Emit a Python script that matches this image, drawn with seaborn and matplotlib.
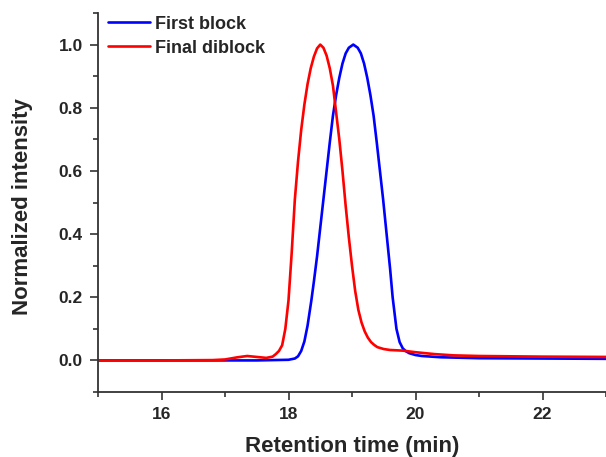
import pandas as pd
import numpy as np
import seaborn as sns
import matplotlib.pyplot as plt
from matplotlib.ticker import MultipleLocator

# GPC traces
first_time = [15.0, 16.0, 17.0, 17.5, 18.0, 18.10, 18.15, 18.20, 18.25, 18.30,
              18.36, 18.40, 18.45, 18.50, 18.55, 18.60, 18.65, 18.70, 18.75, 18.80,
              18.85, 18.90, 18.95, 19.02, 19.09, 19.14, 19.19, 19.24, 19.29, 19.34,
              19.39, 19.44, 19.49, 19.55, 19.60, 19.64, 19.70, 19.75, 19.80, 19.85,
              19.90, 20.0, 20.1, 20.4, 21.0, 22.0, 23.0]
first_int = [0.0, 0.0, 0.0, 0.0, 0.002, 0.006, 0.013, 0.03, 0.06, 0.11,
             0.19, 0.25, 0.33, 0.42, 0.51, 0.60, 0.69, 0.775, 0.84, 0.895,
             0.94, 0.972, 0.99, 1.0, 0.99, 0.972, 0.94, 0.895, 0.84, 0.775,
             0.69, 0.60, 0.51, 0.39, 0.29, 0.20, 0.10, 0.058, 0.038, 0.029,
             0.023, 0.017, 0.014, 0.010, 0.007, 0.006, 0.005]

final_time = [15.0, 16.0, 16.8, 17.0, 17.2, 17.35, 17.5, 17.65, 17.75, 17.8,
              17.85, 17.9, 17.95, 18.0, 18.05, 18.1, 18.15, 18.2, 18.25, 18.3,
              18.35, 18.4, 18.45, 18.5, 18.55, 18.6, 18.65, 18.7, 18.75, 18.8,
              18.85, 18.9, 18.95, 19.0, 19.05, 19.1, 19.15, 19.2, 19.25, 19.3,
              19.35, 19.4, 19.5, 19.6, 19.8, 20.0, 20.3, 20.6, 21.0, 22.0,
              23.0]
final_int = [0.0, 0.0, 0.001, 0.003, 0.010, 0.014, 0.011, 0.008, 0.012, 0.020,
             0.030, 0.048, 0.10, 0.19, 0.34, 0.51, 0.63, 0.73, 0.81, 0.875,
             0.925, 0.962, 0.988, 1.0, 0.99, 0.965, 0.925, 0.87, 0.785, 0.70,
             0.60, 0.49, 0.39, 0.30, 0.22, 0.16, 0.12, 0.092, 0.072, 0.058,
             0.049, 0.042, 0.036, 0.033, 0.031, 0.026, 0.020, 0.016, 0.014, 0.012,
             0.011]

df = pd.concat([
    pd.DataFrame({'time': first_time, 'intensity': first_int, 'sample': 'First block'}),
    pd.DataFrame({'time': final_time, 'intensity': final_int, 'sample': 'Final diblock'}),
])

sns.set_style('ticks')
plt.rcParams['font.family'] = ['Liberation Sans', 'DejaVu Sans']
plt.rcParams['font.weight'] = 'bold'

fig = plt.figure(figsize=(6.06, 4.57), dpi=100)
ax = fig.add_axes([98 / 606, 65 / 457, 508 / 606, 379 / 457])

sns.lineplot(data=df, x='time', y='intensity', hue='sample',
             palette={'First block': '#0000ff', 'Final diblock': '#ff0000'},
             linewidth=1.9, ax=ax)

ax.set_xlim(15, 23)
ax.set_ylim(-0.1, 1.1)
ax.xaxis.set_major_locator(MultipleLocator(2))
ax.xaxis.set_minor_locator(MultipleLocator(1))
ax.yaxis.set_major_locator(MultipleLocator(0.2))
ax.yaxis.set_minor_locator(MultipleLocator(0.1))
ax.yaxis.set_major_formatter(plt.FormatStrFormatter('%.1f'))
ax.tick_params(which='major', length=6, width=1.2, labelsize=12.5, pad=5, color='#333333')
ax.tick_params(which='minor', length=3.5, width=1.2, color='#333333')

for side in ['top', 'right']:
    ax.spines[side].set_visible(False)
for side in ['left', 'bottom']:
    ax.spines[side].set_linewidth(1.3)
    ax.spines[side].set_color('#333333')

ax.set_xlabel('Retention time (min)', fontsize=16, fontweight='bold')
ax.set_ylabel('Normalized intensity', fontsize=16, fontweight='bold')
ax.xaxis.set_label_coords(0.5, -0.115)
ax.yaxis.set_label_coords(-0.127, 0.49)

ax.legend(loc='upper left', bbox_to_anchor=(0.02, 0.993), frameon=False,
          fontsize=13, handlelength=2.33, handletextpad=0.28,
          labelspacing=0.38, borderpad=0, borderaxespad=0)

fig.savefig('out.png', dpi=100)
